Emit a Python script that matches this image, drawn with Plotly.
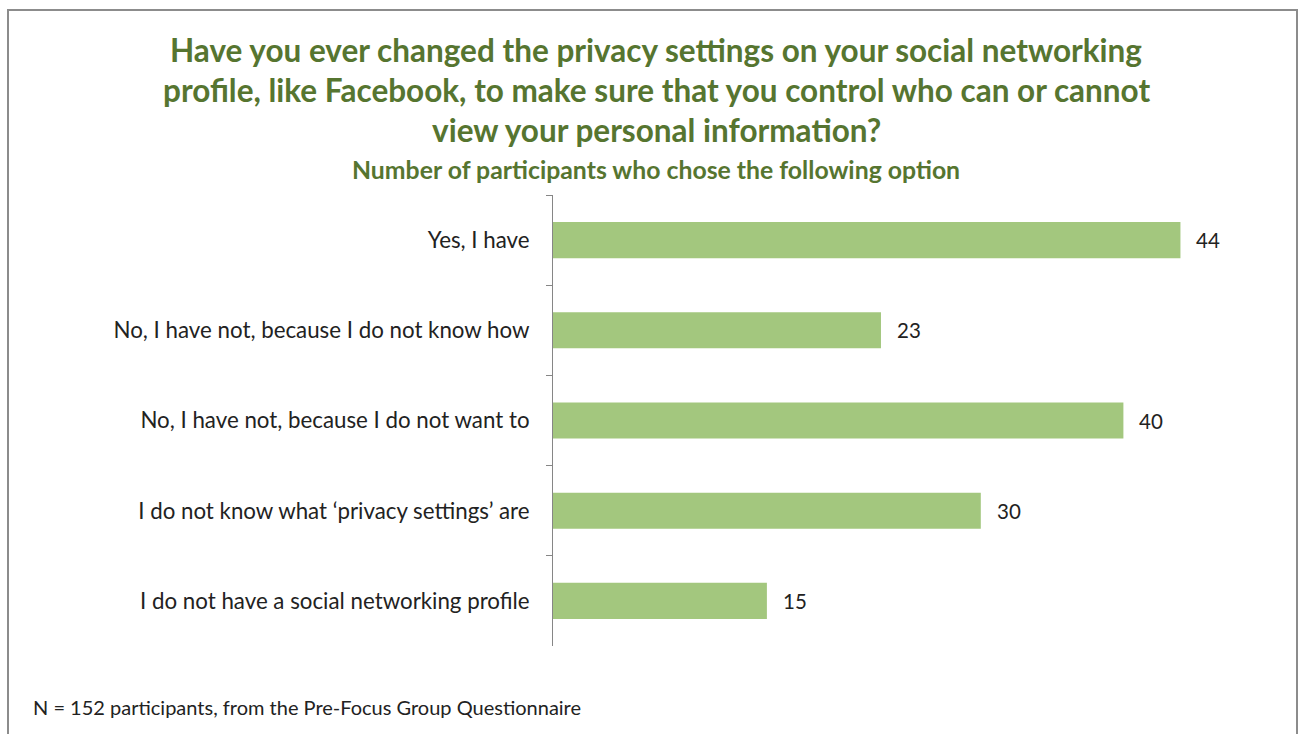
import plotly.graph_objects as go

categories = [
    "Yes, I have",
    "No, I have not, because I do not know how",
    "No, I have not, because I do not want to",
    "I do not know what \u2018privacy settings\u2019 are",
    "I do not have a social networking profile",
]
counts = [44, 23, 40, 30, 15]

title_lines = [
    "Have you ever changed the privacy settings on your social networking",
    "profile, like Facebook, to make sure that you control who can or cannot",
    "view your personal information?",
]
subtitle = "Number of participants who chose the following option"
footnote = "N = 152 participants, from the Pre-Focus Group Questionnaire"

W, H = 1304, 734
L, R, T, B = 553, 38, 195, 88
PW, PH = W - L - R, H - T - B

def px(x):
    return (x - L) / PW

def py(y):
    return (H - B - y) / PH

GREEN = "#567530"
BAR = "#A3C77E"
FONT = "Lato, 'Open Sans', sans-serif"

fig = go.Figure(
    go.Bar(
        x=counts,
        y=categories,
        orientation="h",
        width=0.4,
        marker=dict(color=BAR, line=dict(width=0)),
        hoverinfo="skip",
    )
)

annotations = []
for c, v in zip(categories, counts):
    annotations.append(dict(
        x=v, y=c, xref="x", yref="y", text=str(v), showarrow=False,
        xanchor="left", xshift=14, font=dict(family=FONT, size=20.5, color="#222222"),
    ))

for i, line in enumerate(title_lines):
    annotations.append(dict(
        x=px(656), y=py(50 + i * 40), xref="paper", yref="paper", text=f"<b>{line}</b>",
        showarrow=False, xanchor="center", yanchor="middle",
        font=dict(family=FONT, size=31.5, color=GREEN),
    ))
annotations.append(dict(
    x=px(656), y=py(169), xref="paper", yref="paper", text=f"<b>{subtitle}</b>",
    showarrow=False, xanchor="center", yanchor="middle",
    font=dict(family=FONT, size=24.8, color=GREEN),
))
annotations.append(dict(
    x=px(31), y=py(707), xref="paper", yref="paper", text=footnote,
    showarrow=False, xanchor="left", yanchor="middle",
    font=dict(family=FONT, size=20, color="#222222"),
))

fig.update_layout(
    width=W, height=H,
    margin=dict(l=L, r=R, t=T, b=B, pad=0),
    paper_bgcolor="white", plot_bgcolor="white",
    showlegend=False,
    bargap=0.6,
    xaxis=dict(range=[0, 50], visible=False, fixedrange=True),
    yaxis=dict(
        autorange="reversed",
        showline=True, linecolor="#868686", linewidth=1,
        ticks="outside", tickson="boundaries", ticklen=6, tickcolor="#868686",
        showgrid=False, zeroline=False,
        ticklabelstandoff=18,
        tickfont=dict(family=FONT, size=22.3, color="#222222"),
    ),
    annotations=annotations,
    shapes=[dict(
        type="rect", xref="paper", yref="paper",
        x0=px(8), x1=px(1297), y0=py(745), y1=py(10),
        line=dict(color="#8C8C8C", width=2), fillcolor="rgba(0,0,0,0)",
        layer="below",
    )],
)

fig.write_html("out.html")
